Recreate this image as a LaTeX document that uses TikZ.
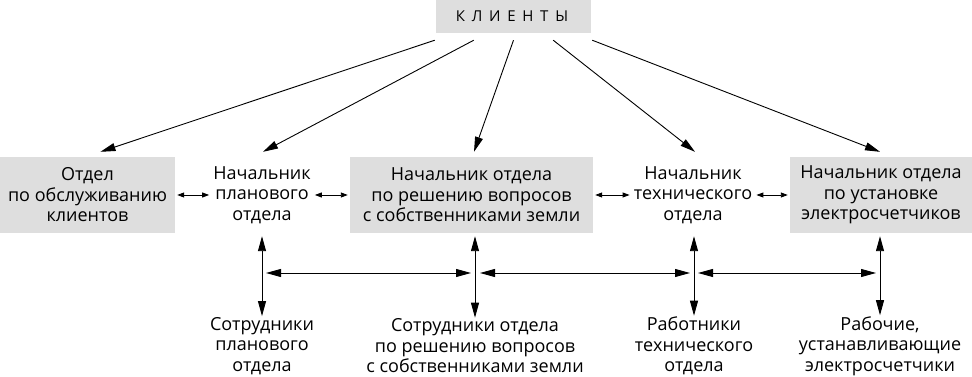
\documentclass[tikz,border=0pt]{standalone}
\usepackage{fontspec}
\setmainfont{Open Sans}
\usetikzlibrary{arrows.meta,calc}
\definecolor{boxgray}{HTML}{DEDEDE}
\begin{document}
\begin{tikzpicture}[x=1pt,y=1pt,
  txt/.style={align=center, font=\fontsize{18}{20.5}\selectfont},
  box/.style={txt, fill=boxgray, minimum height=76pt, inner sep=0pt},
  plain/.style={txt, minimum height=76pt, inner xsep=2pt, inner ysep=0pt},
  low/.style={txt, inner xsep=2pt, inner ysep=1pt},
  kbox/.style={fill=boxgray, minimum width=155pt, minimum height=33pt, inner sep=0pt, font=\fontsize{15}{18}\selectfont},
  big/.style={-{Triangle[length=15pt,width=8pt]}, line width=0.9pt},
  dbl/.style={{Triangle[length=15pt,width=8pt]}-{Triangle[length=15pt,width=8pt]}, line width=0.9pt},
  small/.style={{Triangle[length=7pt,width=5pt]}-{Triangle[length=7pt,width=5pt]}, line width=0.9pt, shorten <=2pt, shorten >=2pt}
]
\useasboundingbox (0,0) rectangle (972,377);

\node[kbox] (kl) at (513.5,360.5) {\hspace*{-3pt}\addfontfeatures{LetterSpace=45}КЛИЕНТЫ};

\node[box, minimum width=175pt] (n1) at (87.5,182) {Отдел\\по обслуживанию\\клиентов};
\node[plain] (n2) at (262,182) {Начальник\\планового\\отдела};
\node[box, minimum width=243pt] (n3) at (471.5,182) {Начальник отдела\\по решению вопросов\\с собственниками земли};
\node[plain] (n4) at (693,182) {Начальник\\технического\\отдела};
\node[box, minimum width=182pt] (n5) at (881,182) {Начальник отдела\\по установке\\электросчетчиков};

\node[low] (b1) at (262,31) {Сотрудники\\планового\\отдела};
\node[low] (b2) at (475,31) {Сотрудники отдела\\по решению вопросов\\с собственниками земли};
\node[low] (b3) at (694,31) {Работники\\технического\\отдела};
\node[low] (b4) at (880,31) {Рабочие,\\устанавливающие\\электросчетчики};

% arrows from clients
\coordinate (s1) at ($(kl.south west)+(-1,-7)$);
\coordinate (s2) at ($(kl.south west)+(38,-7)$);
\coordinate (s3) at ($(kl.south)+(0,-7)$);
\coordinate (s4) at ($(kl.south east)+(-38,-7)$);
\coordinate (s5) at ($(kl.south east)+(1,-7)$);
\draw[big] (s1) -- ($(n1.north)+(13,5)$);
\draw[big] (s2) -- ($(n2.north)+(1,5)$);
\draw[big] (s3) -- ($(n3.north)+(2.5,5)$);
\draw[big] (s4) -- ($(n4.north)+(2,5)$);
\draw[big] (s5) -- ($(n5.north)+(-1,5)$);

% row links
\draw[small] (n1.east) -- (n2.west);
\draw[small] (n2.east) -- (n3.west);
\draw[small] (n3.east) -- (n4.west);
\draw[small] (n4.east) -- (n5.west);

% vertical links
\draw[dbl, shorten <=3pt] (n2.south) -- (b1.north);
\draw[dbl, shorten <=3pt] (n3.south -| b2.north) -- (b2.north);
\draw[dbl, shorten <=3pt] (n4.south -| b3.north) -- (b3.north);
\draw[dbl, shorten <=3pt] (n5.south -| b4.north) -- (b4.north);

% horizontal links
\coordinate (h1) at (b1.north |- 0,104);
\coordinate (h2) at (b2.north |- 0,104);
\coordinate (h3) at (b3.north |- 0,104);
\coordinate (h4) at (b4.north |- 0,104);
\draw[dbl, shorten <=4pt, shorten >=4pt] (h1) -- (h2);
\draw[dbl, shorten <=5pt, shorten >=4pt] (h2) -- (h3);
\draw[dbl, shorten <=4pt, shorten >=4pt] (h3) -- (h4);
\end{tikzpicture}
\end{document}
